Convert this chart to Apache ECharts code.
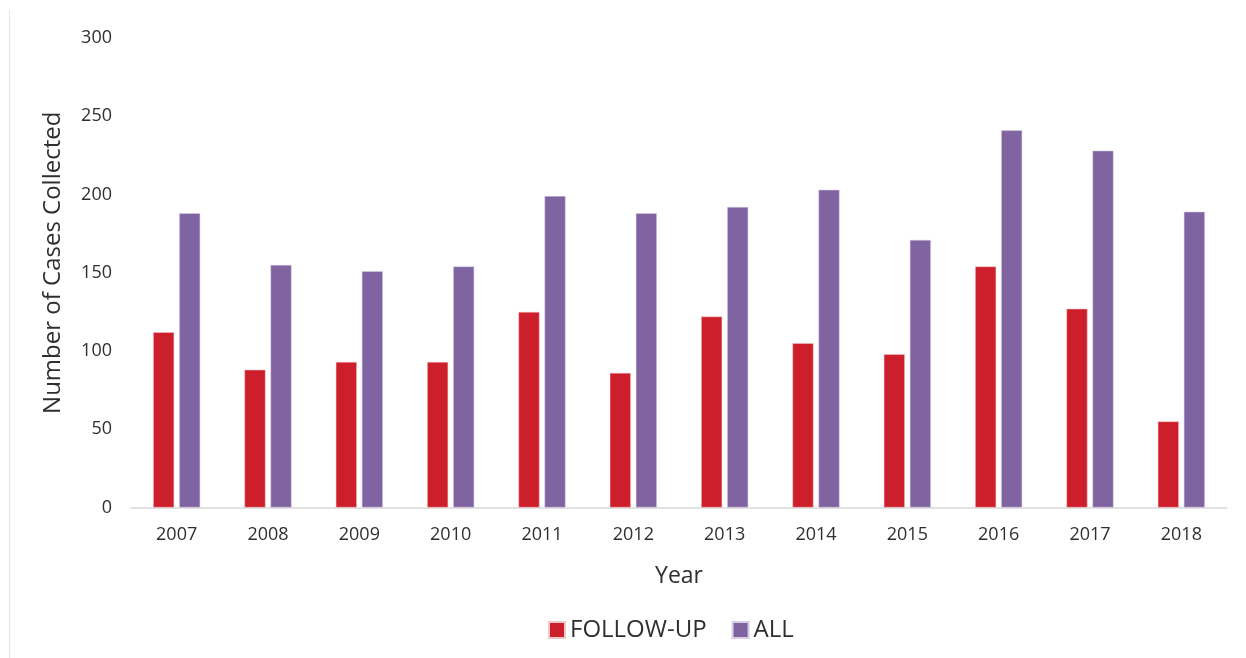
<!DOCTYPE html>
<html>
<head>
<meta charset="utf-8">
<script src="https://cdn.jsdelivr.net/npm/echarts@6/dist/echarts.min.js"></script>
<style>
  html, body { margin: 0; padding: 0; background: #ffffff; }
  #chart { width: 1246px; height: 658px; }
</style>
</head>
<body>
<div id="chart"></div>
<script>
// Cases collected per year
const years = ['2007', '2008', '2009', '2010', '2011', '2012', '2013', '2014', '2015', '2016', '2017', '2018'];
const followUp = [112, 88, 93, 93, 125, 86, 122, 105, 98, 154, 127, 55];
const allCases = [188, 155, 151, 154, 199, 188, 192, 203, 171, 241, 228, 189];
const seriesNames = ['FOLLOW-UP', 'ALL'];

const FONT = '"Open Sans", "Noto Sans", sans-serif';
const TEXT = '#2f2f2f';

const chart = echarts.init(document.getElementById('chart'), null, { renderer: 'canvas' });

chart.setOption({
  animation: false,
  backgroundColor: '#ffffff',
  textStyle: { fontFamily: FONT },
  graphic: [{
    type: 'line',
    shape: { x1: 9.5, y1: 10, x2: 9.5, y2: 658 },
    style: { stroke: '#e3e3e3', lineWidth: 1 },
    silent: true
  }],
  grid: { left: 131, right: 19, top: 38, bottom: 150.5, containLabel: false },
  legend: {
    bottom: 11,
    left: 543,
    itemWidth: 16,
    itemHeight: 16,
    itemGap: 25,
    icon: 'rect',
    textStyle: { fontFamily: FONT, fontSize: 24, color: TEXT },
    data: seriesNames
  },
  xAxis: {
    type: 'category',
    data: years,
    name: 'Year',
    nameLocation: 'middle',
    nameGap: 57,
    nameTextStyle: { fontFamily: FONT, fontSize: 23, color: TEXT },
    axisLine: { lineStyle: { color: '#d9d9d9', width: 1.5 } },
    axisTick: { show: false },
    axisLabel: { fontFamily: FONT, fontSize: 18, color: TEXT, margin: 18 }
  },
  yAxis: {
    type: 'value',
    min: 0,
    max: 300,
    interval: 50,
    name: 'Number of Cases Collected',
    nameLocation: 'middle',
    nameGap: 66,
    nameTextStyle: { fontFamily: FONT, fontSize: 24, color: TEXT, padding: [0, 0, 0, 20] },
    axisLine: { show: false },
    axisTick: { show: false },
    splitLine: { show: false },
    axisLabel: { fontFamily: FONT, fontSize: 18, color: TEXT, margin: 19 }
  },
  series: [
    {
      name: seriesNames[0],
      type: 'bar',
      data: followUp,
      barWidth: 21,
      barGap: '24%',
      itemStyle: { color: '#CD1F2B', borderColor: '#f2c7ca', borderWidth: 0.5 }
    },
    {
      name: seriesNames[1],
      type: 'bar',
      data: allCases,
      barWidth: 21,
      barGap: '24%',
      itemStyle: { color: '#8064A2', borderColor: '#d8cde6', borderWidth: 0.5 }
    }
  ]
});
</script>
</body>
</html>
